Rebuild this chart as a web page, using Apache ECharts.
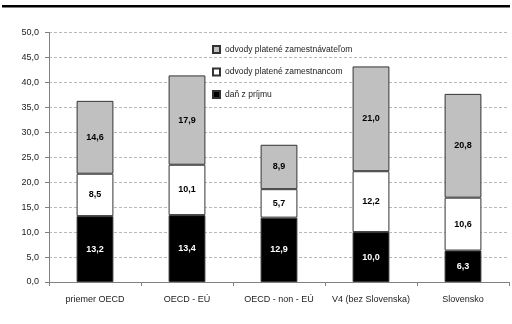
<!DOCTYPE html>
<html>
<head>
<meta charset="utf-8">
<script src="https://cdn.jsdelivr.net/npm/echarts@6/dist/echarts.min.js"></script>
<style>
  html, body { margin: 0; padding: 0; background: #fff; }
  #chart { width: 512px; height: 324px; }
</style>
</head>
<body>
<div id="chart"></div>
<script>
// Categories and stacked components (% of labour cost)
const categories = ['priemer OECD', 'OECD - EÚ', 'OECD - non - EÚ', 'V4 (bez Slovenska)', 'Slovensko'];
const incomeTax = [13.2, 13.4, 12.9, 10.0, 6.3];
const employeeContrib = [8.5, 10.1, 5.7, 12.2, 10.6];
const employerContrib = [14.6, 17.9, 8.9, 21.0, 20.8];
const yTicks = [0, 5, 10, 15, 20, 25, 30, 35, 40, 45, 50];

const FONT = '"Liberation Sans", Arial, sans-serif';
const fmt = v => v.toFixed(1).replace('.', ',');

function stackSeries(name, data, fill, textColor) {
  return {
    name: name,
    type: 'bar',
    stack: 'total',
    barWidth: '40%',
    data: data,
    itemStyle: { color: fill, borderColor: '#333', borderWidth: 1 },
    label: {
      show: true,
      position: 'inside',
      formatter: p => fmt(p.value),
      color: textColor,
      fontFamily: FONT,
      fontSize: 9,
      fontWeight: 'bold'
    },
    emphasis: { disabled: true }
  };
}

const chart = echarts.init(document.getElementById('chart'), null, { renderer: 'canvas' });
chart.setOption({
  animation: false,
  backgroundColor: '#fff',
  grid: { left: 49, right: 3, top: 32.5, bottom: 42 },
  legend: {
    orient: 'vertical',
    left: 207,
    top: 39,
    icon: 'rect',
    itemWidth: 7,
    itemHeight: 7,
    itemGap: 11.5,
    data: ['odvody platené zamestnávateľom', 'odvody platené zamestnancom', 'daň z príjmu'],
    textStyle: { fontFamily: FONT, fontSize: 8.5, color: '#222', lineHeight: 11 },
    selectedMode: false
  },
  xAxis: {
    type: 'category',
    data: categories,
    axisLine: { lineStyle: { color: '#808080', width: 1 } },
    axisTick: { show: true, length: 4, lineStyle: { color: '#808080' } },
    axisLabel: { interval: 0, fontFamily: FONT, fontSize: 9, color: '#222', margin: 13 }
  },
  yAxis: {
    type: 'value',
    min: yTicks[0],
    max: yTicks[yTicks.length - 1],
    interval: 5,
    axisLine: { show: true, lineStyle: { color: '#808080', width: 1 } },
    axisTick: { show: true, length: 4, lineStyle: { color: '#808080' } },
    axisLabel: { fontFamily: FONT, fontSize: 9, color: '#222', margin: 10, formatter: v => fmt(v) },
    splitLine: { show: true, lineStyle: { color: '#b8b8b8', type: [3, 2], width: 1 } }
  },
  series: [
    stackSeries('daň z príjmu', incomeTax, '#000000', '#ffffff'),
    stackSeries('odvody platené zamestnancom', employeeContrib, '#ffffff', '#000000'),
    stackSeries('odvody platené zamestnávateľom', employerContrib, '#c0c0c0', '#000000')
  ],
  graphic: [
    { type: 'rect', left: 2, top: 5, shape: { width: 508, height: 2.5 }, style: { fill: '#000' }, silent: true }
  ]
});
</script>
</body>
</html>
